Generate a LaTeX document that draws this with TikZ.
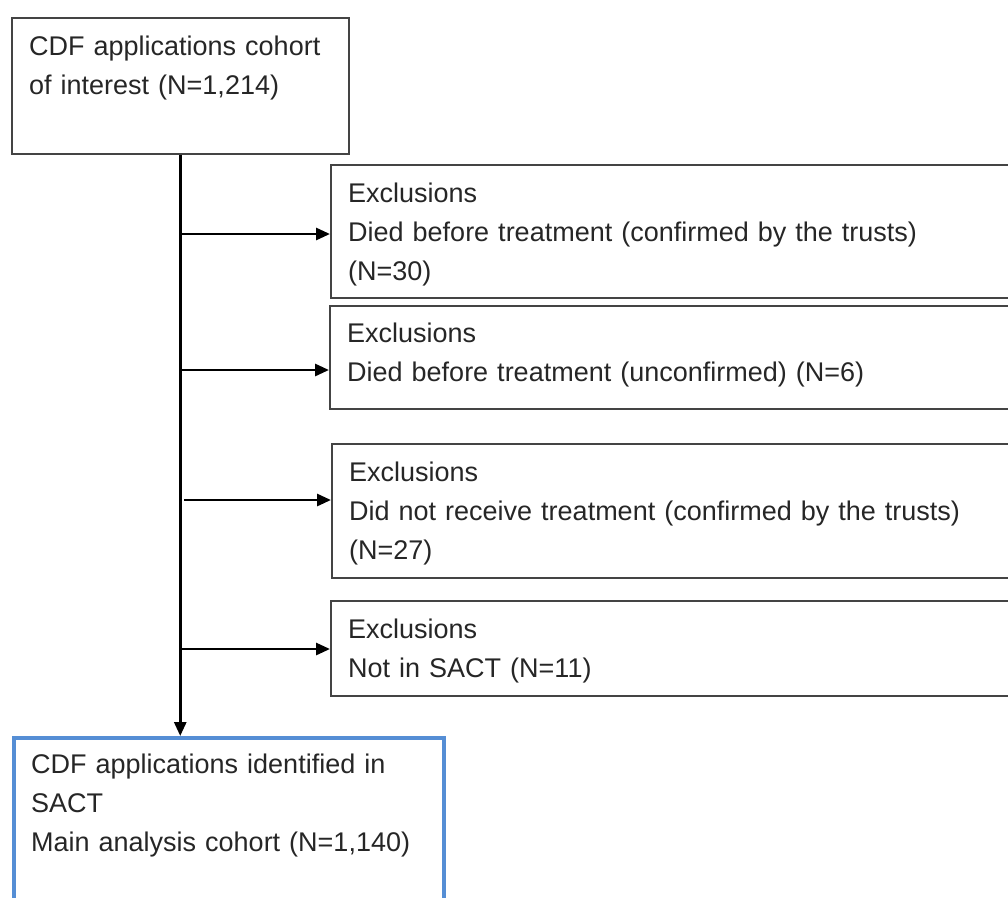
\documentclass[tikz,border=0pt]{standalone}
\usepackage{fontspec}
\setmainfont{Liberation Sans}
\usepackage{xcolor}
\usepackage{tikz}
\usetikzlibrary{positioning, calc, arrows.meta}
\definecolor{boxgray}{RGB}{68,68,68}
\definecolor{mainblue}{RGB}{85,142,213}

\begin{document}
\begin{tikzpicture}[x=1pt, y=-1pt,
    frame/.style={draw=boxgray, line width=1.5pt, rectangle, anchor=north west, inner sep=0pt},
    txt/.style={anchor=base west, inner sep=0pt, align=left, text width=660pt,
                text=black!85, font=\fontsize{27}{39}\selectfont},
    arr/.style={line width=2.8pt, -{Triangle[length=14pt, width=12pt]}}]

    % Page area, right and bottom boxes run off the edge
    \useasboundingbox (0,0) rectangle (1008,897);
    \clip (0,0) rectangle (1008,897);

    % Starting cohort box
    \node[frame, minimum width=337pt, minimum height=136pt] (cohort) at (11,17) {};
    \node[txt] (cohorttext) at ([shift={(18,38)}]cohort.north west)
        {CDF applications cohort\\of interest (N=1,214)};

    % Exclusion boxes down the right side
    \node[frame, minimum width=720pt, minimum height=133pt] (excl1) at (330,164) {};
    \node[txt] (excl1text) at ([shift={(18,38)}]excl1.north west)
        {Exclusions\\Died before treatment (confirmed by the trusts)\\(N=30)};

    \node[frame, minimum width=720pt, minimum height=103pt] (excl2) at (329,305) {};
    \node[txt] (excl2text) at ([shift={(18,37)}]excl2.north west)
        {Exclusions\\Died before treatment (unconfirmed) (N=6)};

    \node[frame, minimum width=720pt, minimum height=134pt] (excl3) at (331,443) {};
    \node[txt] (excl3text) at ([shift={(18,38)}]excl3.north west)
        {Exclusions\\Did not receive treatment (confirmed by the trusts)\\(N=27)};

    \node[frame, minimum width=720pt, minimum height=95pt] (excl4) at (330,600) {};
    \node[txt] (excl4text) at ([shift={(18,38)}]excl4.north west)
        {Exclusions\\Not in SACT (N=11)};

    % Final analysis cohort box (blue)
    \node[frame, draw=mainblue, line width=4pt, minimum width=430pt, minimum height=220pt] (main) at (12,736) {};
    \node[txt] (maintext) at ([shift={(19,37)}]main.north west)
        {CDF applications identified in\\SACT\\Main analysis cohort (N=1,140)};

    % Arrow entry points on the exclusion boxes
    \coordinate (in1) at ([shift={(0,70)}]excl1.north west);
    \coordinate (in2) at ([shift={(0,65)}]excl2.north west);
    \coordinate (in3) at ([shift={(0,57)}]excl3.north west);
    \coordinate (in4) at ([shift={(0,49)}]excl4.north west);

    % Main flow line
    \draw[arr] (cohort.south) -- (cohort.south |- main.north);

    % Side branches to the exclusions
    \draw[arr] (cohort.south |- in1) -- (in1);
    \draw[arr] (cohort.south |- in2) -- (in2);
    \draw[arr] ([shift={(4,0)}]cohort.south |- in3) -- (in3);
    \draw[arr] (cohort.south |- in4) -- (in4);

\end{tikzpicture}
\end{document}
